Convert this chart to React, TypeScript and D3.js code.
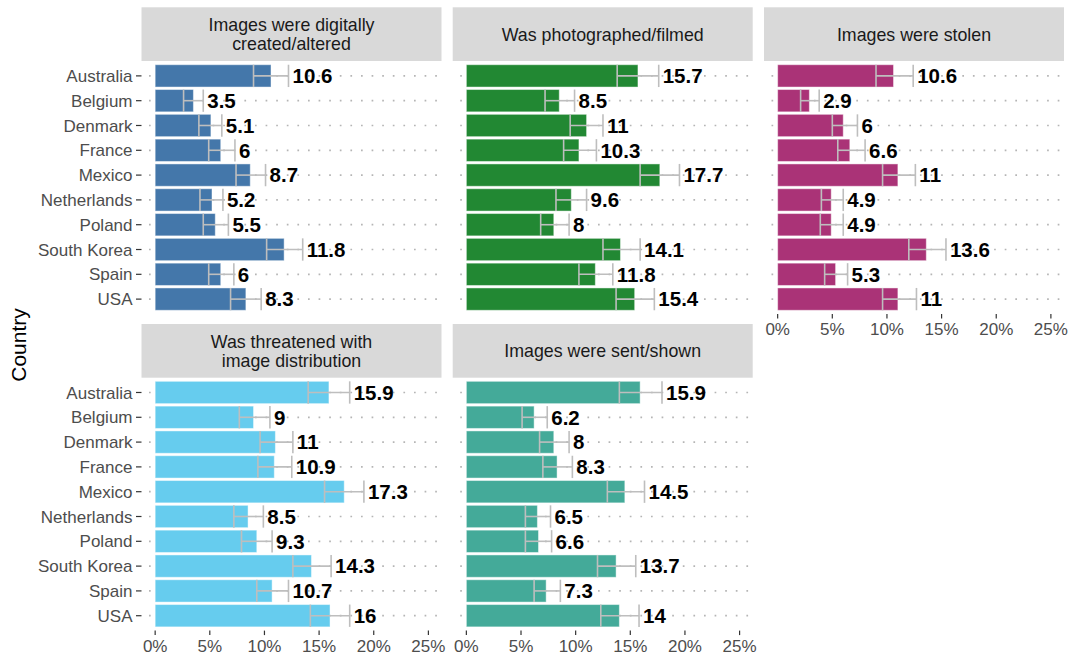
import React from 'react';
import * as d3 from 'd3';

const countries = ['Australia', 'Belgium', 'Denmark', 'France', 'Mexico', 'Netherlands', 'Poland', 'South Korea', 'Spain', 'USA'];

const titles = [
  ['Images were digitally', 'created/altered'],
  ['Was photographed/filmed'],
  ['Images were stolen'],
  ['Was threatened with', 'image distribution'],
  ['Images were sent/shown'],
];

const colors = ['#4477AA', '#228833', '#AA3377', '#66CCEE', '#44AA99'];

const createdAltered = [10.6, 3.5, 5.1, 6, 8.7, 5.2, 5.5, 11.8, 6, 8.3];
const createdAlteredLo = [9.0, 2.6, 4.0, 4.9, 7.4, 4.1, 4.4, 10.2, 4.9, 6.9];
const createdAlteredHi = [12.2, 4.4, 6.1, 7.3, 10.1, 6.2, 6.7, 13.5, 7.2, 9.7];

const photographed = [15.7, 8.5, 11, 10.3, 17.7, 9.6, 8, 14.1, 11.8, 15.4];
const photographedLo = [13.8, 7.2, 9.5, 8.9, 15.9, 8.2, 6.8, 12.5, 10.3, 13.7];
const photographedHi = [17.6, 9.9, 12.5, 11.9, 19.5, 11.0, 9.4, 15.9, 13.4, 17.2];

const stolen = [10.6, 2.9, 6, 6.6, 11, 4.9, 4.9, 13.6, 5.3, 11];
const stolenLo = [9.0, 2.1, 5.0, 5.5, 9.6, 4.0, 3.9, 12.0, 4.3, 9.6];
const stolenHi = [12.4, 3.8, 7.3, 8.0, 12.6, 6.0, 6.0, 15.4, 6.4, 12.7];

const threatened = [15.9, 9, 11, 10.9, 17.3, 8.5, 9.3, 14.3, 10.7, 16];
const threatenedLo = [14.0, 7.7, 9.6, 9.4, 15.5, 7.2, 7.9, 12.6, 9.3, 14.2];
const threatenedHi = [17.8, 10.5, 12.6, 12.5, 19.1, 9.9, 10.7, 16.1, 12.2, 17.8];

const sentShown = [15.9, 6.2, 8, 8.3, 14.5, 6.5, 6.6, 13.7, 7.3, 14];
const sentShownLo = [14.0, 5.1, 6.7, 7.0, 12.9, 5.4, 5.4, 12.0, 6.2, 12.3];
const sentShownHi = [17.9, 7.4, 9.4, 9.7, 16.3, 7.7, 7.8, 15.5, 8.6, 15.8];

const xTicks = [0, 5, 10, 15, 20, 25];

const panels = [
  { vals: createdAltered, lo: createdAlteredLo, hi: createdAlteredHi, col: 0, row: 0, xAxis: false },
  { vals: photographed, lo: photographedLo, hi: photographedHi, col: 1, row: 0, xAxis: false },
  { vals: stolen, lo: stolenLo, hi: stolenHi, col: 2, row: 0, xAxis: true },
  { vals: threatened, lo: threatenedLo, hi: threatenedHi, col: 0, row: 1, xAxis: true },
  { vals: sentShown, lo: sentShownLo, hi: sentShownHi, col: 1, row: 1, xAxis: true },
];

const W = 1072;
const H = 656;
const colX = [141.5, 452.7, 764];
const panelW = 300;
const stripTop = [7.3, 324];
const stripH = 53.7;
const panelTop = [61, 377.6];
const panelH = 253;
const font = '"Liberation Sans", Arial, Helvetica, sans-serif';

export default function App() {
  const x = d3.scaleLinear().domain([-1.25, 26.2]).range([0, panelW]);
  const y = d3.scalePoint<string>().domain(countries).range([0, panelH]).padding(0.6);
  const barH = y.step() * 0.9;

  return (
    <svg width={W} height={H} style={{ position: 'absolute', left: 0, top: 0, fontFamily: font }}>
      <rect width={W} height={H} fill="#fff" />
      <text
        transform={`translate(26,345) rotate(-90)`}
        textAnchor="middle"
        fontSize={21}
        fill="#000"
      >
        Country
      </text>
      {panels.map((p, pi) => {
        const px = colX[p.col];
        const sy = stripTop[p.row];
        const py = panelTop[p.row];
        const lines = titles[pi];
        const sc = sy + stripH / 2;
        return (
          <g key={pi}>
            <rect x={px} y={sy} width={panelW} height={stripH} fill="#d9d9d9" />
            {lines.map((l, li) => (
              <text
                key={li}
                x={px + panelW / 2}
                y={sc + (li - (lines.length - 1) / 2) * 19}
                dy="0.36em"
                textAnchor="middle"
                fontSize={17.8}
                fill="#1a1a1a"
              >
                {l}
              </text>
            ))}
            <g transform={`translate(${px},${py})`}>
              {countries.map((c) => (
                <line
                  key={c}
                  x1={0}
                  x2={panelW}
                  y1={y(c)}
                  y2={y(c)}
                  stroke="#b5b5b5"
                  strokeWidth={1.7}
                  strokeDasharray="1.7 8.9"
                  strokeDashoffset={-7.5}
                />
              ))}
              {countries.map((c, i) => {
                const cy = y(c) as number;
                return (
                  <g key={c}>
                    <rect
                      x={x(0)}
                      y={cy - barH / 2}
                      width={x(p.vals[i]) - x(0)}
                      height={barH}
                      fill={colors[pi]}
                      stroke="#ffffff"
                      strokeOpacity={0.45}
                      strokeWidth={1}
                    />
                    <g stroke="#bebebe" strokeWidth={1.6}>
                      <line x1={x(p.lo[i])} x2={x(p.hi[i])} y1={cy} y2={cy} />
                      <line x1={x(p.lo[i])} x2={x(p.lo[i])} y1={cy - barH / 2} y2={cy + barH / 2} />
                      <line x1={x(p.hi[i])} x2={x(p.hi[i])} y1={cy - barH / 2} y2={cy + barH / 2} />
                    </g>
                    <text
                      x={x(p.hi[i]) + 4}
                      y={cy}
                      dy="0.36em"
                      fontSize={20.5}
                      fontWeight="bold"
                      fill="#000"
                    >
                      {String(p.vals[i])}
                    </text>
                  </g>
                );
              })}
              {p.col === 0 &&
                countries.map((c) => (
                  <g key={c} transform={`translate(0,${y(c)})`}>
                    <line x1={-5.5} x2={0} stroke="#333" strokeWidth={1.2} />
                    <text x={-9} dy="0.36em" textAnchor="end" fontSize={17} fill="#4d4d4d">
                      {c}
                    </text>
                  </g>
                ))}
              {p.xAxis &&
                xTicks.map((t) => (
                  <g key={t} transform={`translate(${x(t)},${panelH})`}>
                    <line y1={0} y2={4.5} stroke="#333" strokeWidth={1.2} />
                    <text y={21} textAnchor="middle" fontSize={17} fill="#4d4d4d">
                      {`${t}%`}
                    </text>
                  </g>
                ))}
            </g>
          </g>
        );
      })}
    </svg>
  );
}
